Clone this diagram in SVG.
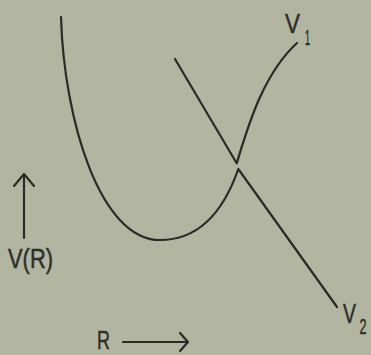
<svg xmlns="http://www.w3.org/2000/svg" width="371" height="355" viewBox="0 0 371 355">
<style>
.c{fill:none;stroke:#2a2a26;stroke-width:2.2;stroke-linecap:round;stroke-linejoin:round}
.t{font-family:"Liberation Sans","DejaVu Sans",sans-serif;fill:#2e2e2a;stroke:#2e2e2a;stroke-width:0.5}
</style>
<rect width="371" height="355" fill="#b2b6a0"/>
<g id="connectors">
<path id="upper" class="c" d="M175,59 L236.7,163.3 C247,130 262,75 297,43"/>
<path id="lower" class="c" d="M61,17 C64,120 100,240 160,240 C200,240 224,210 238.3,169 L337,307"/>
<path id="axisV" class="c" d="M24,238 L24,174 M14,186 L24,174 L34,186"/>
<path id="axisR" class="c" d="M123,342 L188,342 M180,333 L188,342 L180,351"/>
</g>
<g id="V1"><text class="t" x="285" y="33" font-size="27" textLength="15" lengthAdjust="spacingAndGlyphs">V</text><text class="t" x="305" y="45" font-size="22" textLength="5" lengthAdjust="spacingAndGlyphs">1</text></g>
<g id="V2"><text class="t" x="343" y="323" font-size="27" textLength="13" lengthAdjust="spacingAndGlyphs">V</text><text class="t" x="359.5" y="334" font-size="22" textLength="7" lengthAdjust="spacingAndGlyphs">2</text></g>
<g id="VR"><text class="t" x="8" y="268" font-size="27" textLength="45" lengthAdjust="spacingAndGlyphs">V(R)</text></g>
<g id="R"><text class="t" x="97" y="349" font-size="25" textLength="13" lengthAdjust="spacingAndGlyphs">R</text></g>
</svg>
